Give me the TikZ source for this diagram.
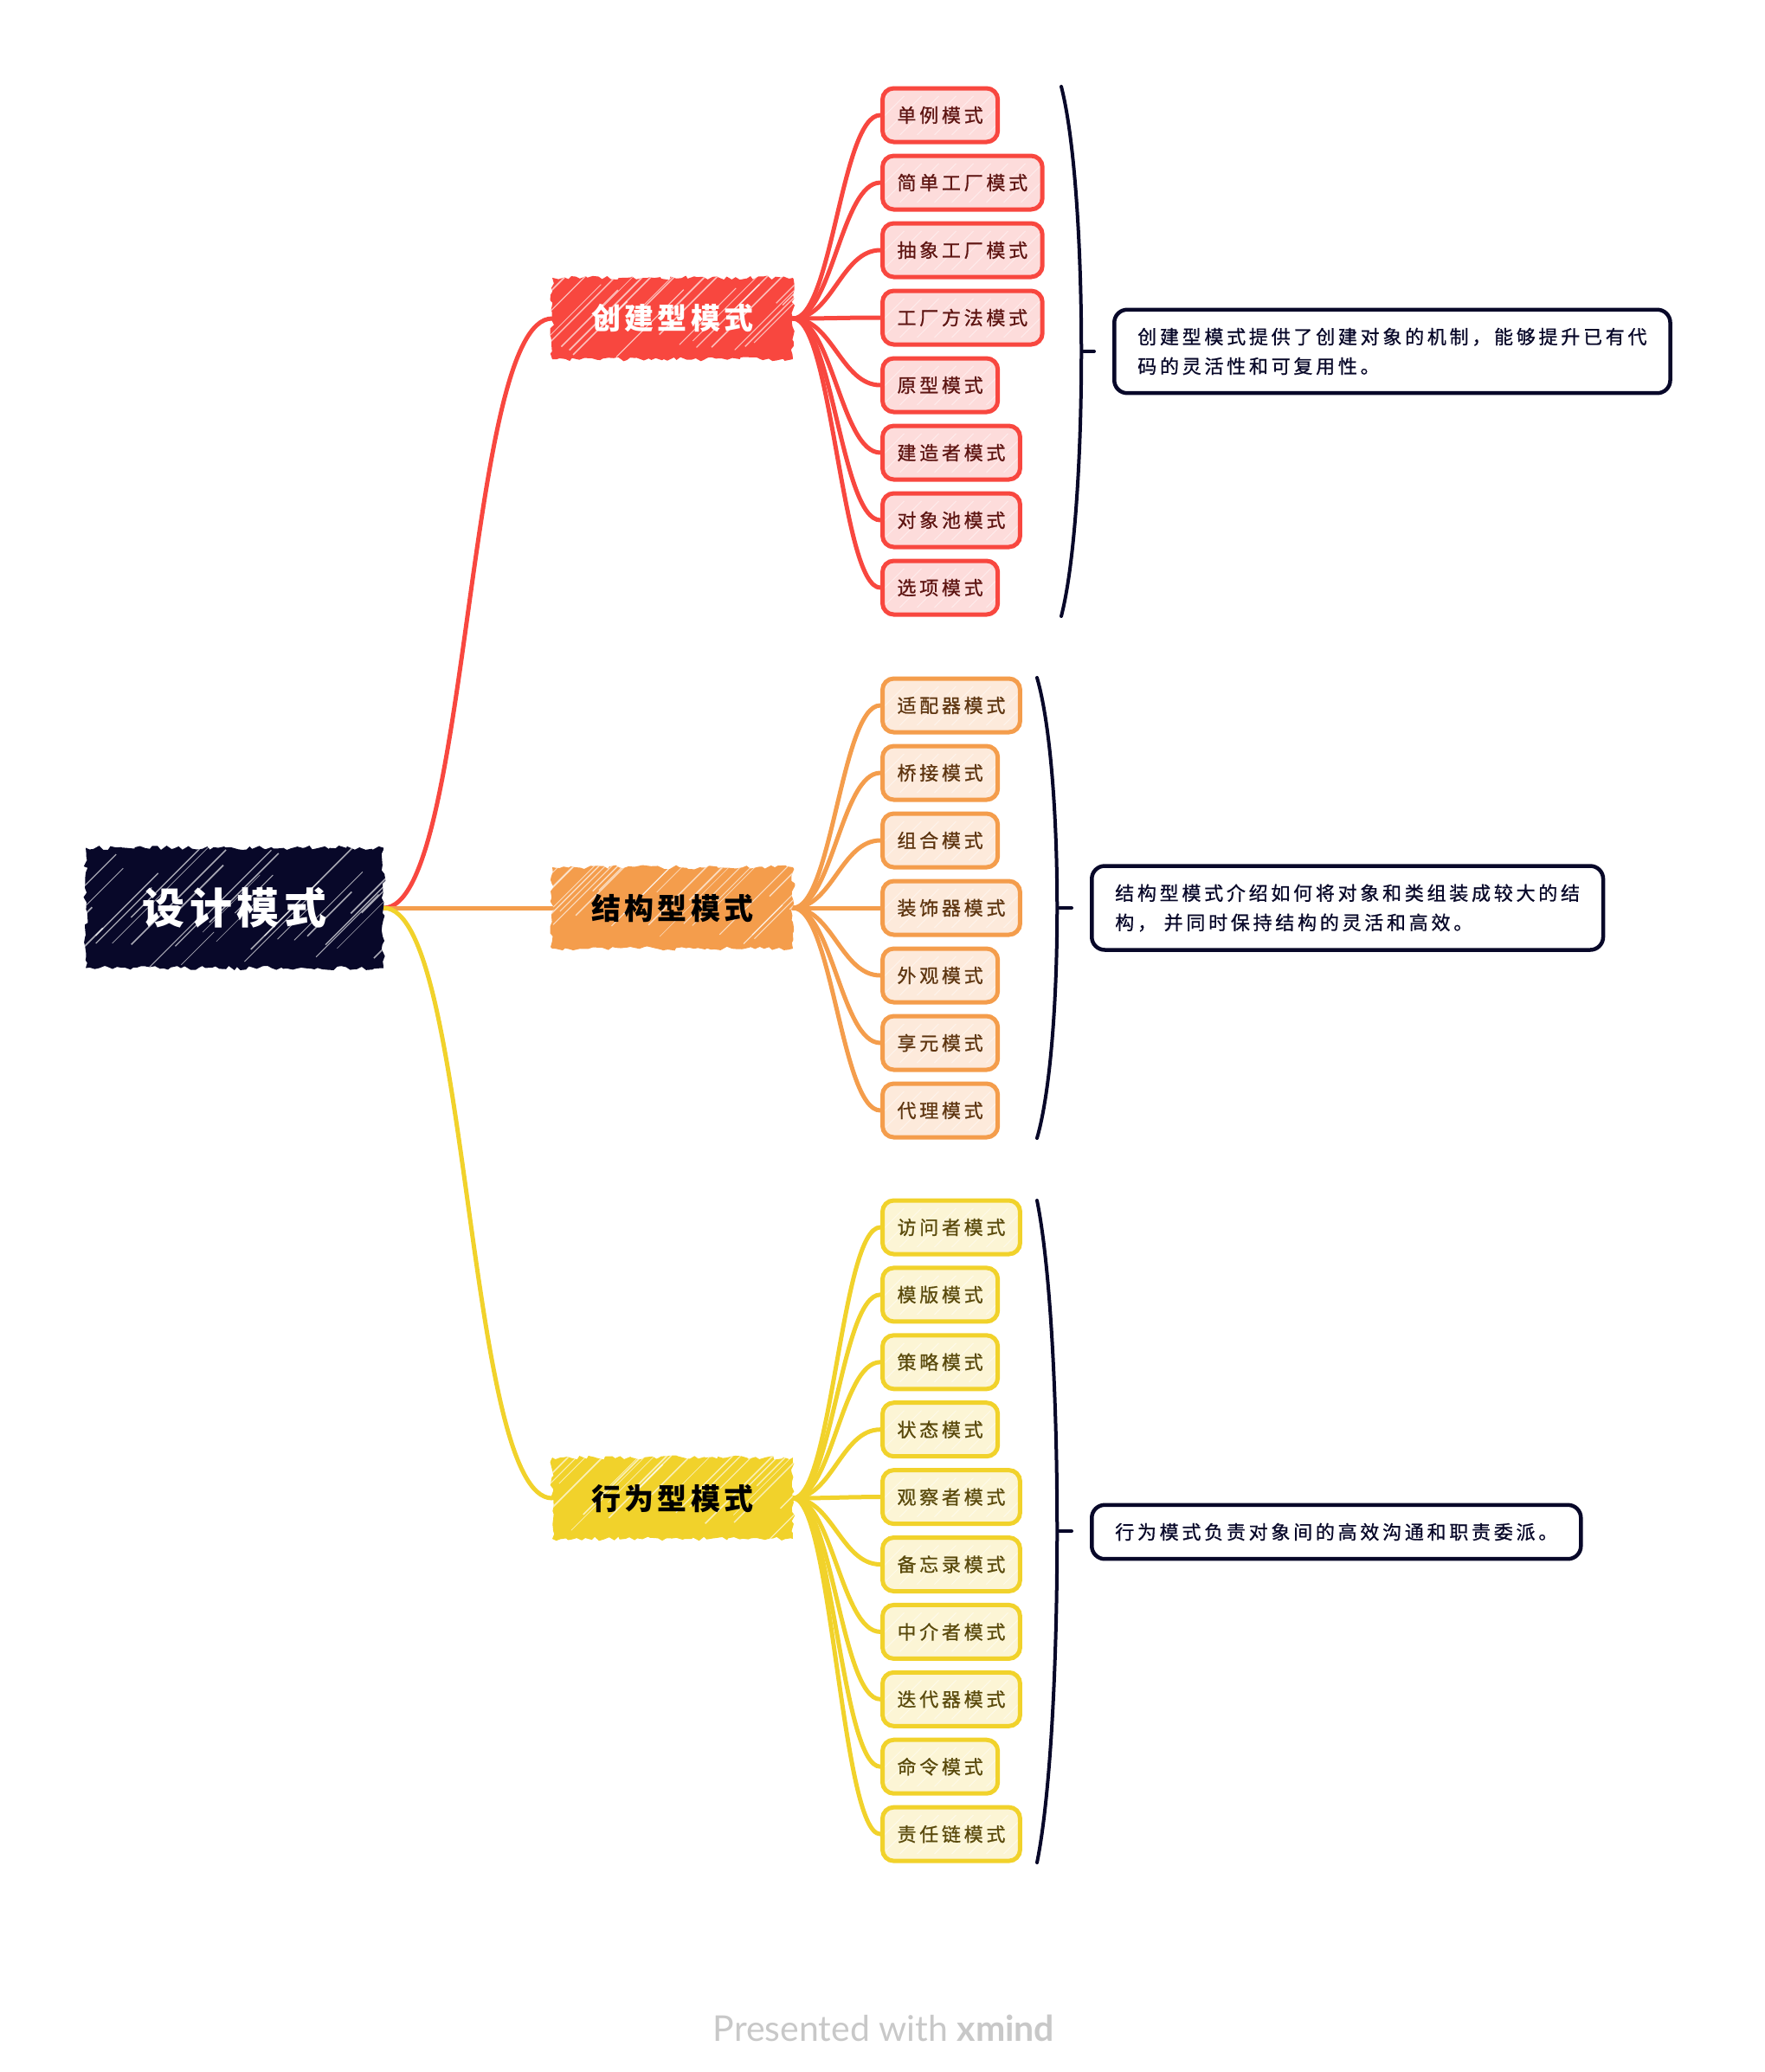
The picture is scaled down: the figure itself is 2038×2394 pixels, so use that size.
\documentclass[tikz,border=0pt]{standalone}
\usepackage{fontspec}
\usetikzlibrary{calc,decorations.pathmorphing,backgrounds}
\newfontfamily\cjk{Noto Sans CJK SC}
\newfontfamily\cjkls{Noto Sans CJK SC}[LetterSpace=17,FakeBold=0.8]
\newfontfamily\cjkhd{Noto Sans CJK SC}[LetterSpace=12]
\newfontfamily\footfont{Lato}
\definecolor{cred}{HTML}{F8473F}
\definecolor{credl}{HTML}{FDDCDB}
\definecolor{credt}{HTML}{5E1512}
\definecolor{corg}{HTML}{F49D4C}
\definecolor{corgl}{HTML}{FDEADB}
\definecolor{corgt}{HTML}{5E3510}
\definecolor{cyel}{HTML}{F1D22B}
\definecolor{cyell}{HTML}{FCF5D5}
\definecolor{cyelt}{HTML}{5A4A0C}
\definecolor{cnavy}{HTML}{080829}
\definecolor{cfoot}{HTML}{C8C8C8}
\tikzset{
  rough/.style={decorate,decoration={random steps,segment length=5pt,amplitude=2.5pt}},
  hatch/.style={path picture={
    \foreach \k in {-200,-186,...,420}{
      \pgfmathsetmacro\aa{rnd*20}
      \pgfmathsetmacro\bb{30+rnd*110}
      \pgfmathsetmacro\lw{0.6+rnd*1.2}
      \draw[white,line width=\lw pt,opacity=0.65]
        ($(path picture bounding box.south west)+(\k+\aa,{-rnd*70})$) -- ++(\bb,-\bb);
    }}},
  lighthatch/.style={path picture={
    \foreach \k in {-80,-60,...,220}{
      \draw[white,line width=1pt,opacity=0.5]
        ($(path picture bounding box.south west)+(\k,-8)$) -- ++(45,-45);
    }}},
  rootbox/.style={rough,fill=cnavy,hatch,minimum width=344pt,minimum height=139pt,
    text=white,font=\cjkhd\bfseries\fontsize{49}{56}\selectfont},
  catbox/.style={rough,fill=#1,hatch,minimum width=278pt,minimum height=94pt,
    font=\cjkhd\bfseries\fontsize{34}{40}\selectfont},
  leafbase/.style={anchor=west,rounded corners=13pt,line width=5pt,minimum height=62pt,
    inner xsep=17pt,inner ysep=0pt,font=\cjkls\fontsize{22}{26}\selectfont,lighthatch},
  leafR/.style={leafbase,draw=cred,fill=credl,text=credt},
  leafO/.style={leafbase,draw=corg,fill=corgl,text=corgt},
  leafY/.style={leafbase,draw=cyel,fill=cyell,text=cyelt},
  note/.style={draw=cnavy,line width=4.5pt,rounded corners=15pt,fill=white,text=cnavy,
    inner xsep=27pt,inner ysep=21pt,align=left,font=\cjkls\fontsize{22}{34}\selectfont},
  link/.style={draw=#1,line width=5pt,line cap=round},
  brace/.style={draw=cnavy,line width=4pt,line cap=round}
}
\pgfmathsetseed{7}
\begin{document}
\begin{tikzpicture}[x=1pt,y=-1pt]
\useasboundingbox (0,0) rectangle (2038,2394);

% root and categories
\node[rootbox] (root) at (271,1049) {设计模式};
\node[catbox=cred,text=white] (c1) at (777,368) {创建型模式};
\node[catbox=corg,text=black] (c2) at (777,1049) {结构型模式};
\node[catbox=cyel,text=black] (c3) at (777,1731) {行为型模式};

% leaves
\foreach \t [count=\i] in {单例模式,简单工厂模式,抽象工厂模式,工厂方法模式,原型模式,建造者模式,对象池模式,选项模式}
  \node[leafR] (r\i) at (1017,{133+78*(\i-1)}) {\t};
\foreach \t [count=\i] in {适配器模式,桥接模式,组合模式,装饰器模式,外观模式,享元模式,代理模式}
  \node[leafO] (o\i) at (1017,{815+78*(\i-1)}) {\t};
\foreach \t [count=\i] in {访问者模式,模版模式,策略模式,状态模式,观察者模式,备忘录模式,中介者模式,迭代器模式,命令模式,责任链模式}
  \node[leafY] (y\i) at (1017,{1418+77.9*(\i-1)}) {\t};

% connectors
\begin{scope}[on background layer]
  \draw[link=cred] (root.east) .. controls +(100,0) and +(-100,0) .. (c1.west);
  \draw[link=corg] (root.east) -- (c2.west);
  \draw[link=cyel] (root.east) .. controls +(100,0) and +(-100,0) .. (c3.west);
  \foreach \i in {1,...,8}
    \draw[link=cred] (c1.east) .. controls +(45,0) and +(-45,0) .. (r\i.west);
  \foreach \i in {1,...,7}
    \draw[link=corg] (c2.east) .. controls +(45,0) and +(-45,0) .. (o\i.west);
  \foreach \i in {1,...,10}
    \draw[link=cyel] (c3.east) .. controls +(45,0) and +(-45,0) .. (y\i.west);
\end{scope}

% summary brackets
\coordinate (b1t) at (1226,100);
\coordinate (b1b) at (1226,712);
\coordinate (b1m) at (1252,406);
\coordinate (b1e) at (1264,406);
\draw[brace] (b1t) .. controls (1257,220) and (1257,592) .. (b1b);
\draw[brace] (b1m) -- (b1e);

\coordinate (b2t) at (1198,783);
\coordinate (b2b) at (1198,1315);
\coordinate (b2m) at (1224,1049);
\coordinate (b2e) at (1238,1049);
\draw[brace] (b2t) .. controls (1229,890) and (1229,1208) .. (b2b);
\draw[brace] (b2m) -- (b2e);

\coordinate (b3t) at (1198,1387);
\coordinate (b3b) at (1198,2152);
\coordinate (b3m) at (1224,1769);
\coordinate (b3e) at (1238,1769);
\draw[brace] (b3t) .. controls (1229,1540) and (1229,1999) .. (b3b);
\draw[brace] (b3m) -- (b3e);

% summaries
\node[note,anchor=west] (n1) at (1285,406) {创建型模式提供了创建对象的机制，能够提升已有代\\码的灵活性和可复用性。};
\node[note,anchor=west] (n2) at (1259,1049) {结构型模式介绍如何将对象和类组装成较大的结\\构， 并同时保持结构的灵活和高效。};
\node[note,anchor=west] (n3) at (1259,1770) {行为模式负责对象间的高效沟通和职责委派。};

% footer
\node[text=cfoot,font=\footfont\fontsize{41}{48}\selectfont] (foot) at (1021,2343) {Presented with \textbf{xmind}};
\end{tikzpicture}
\end{document}
